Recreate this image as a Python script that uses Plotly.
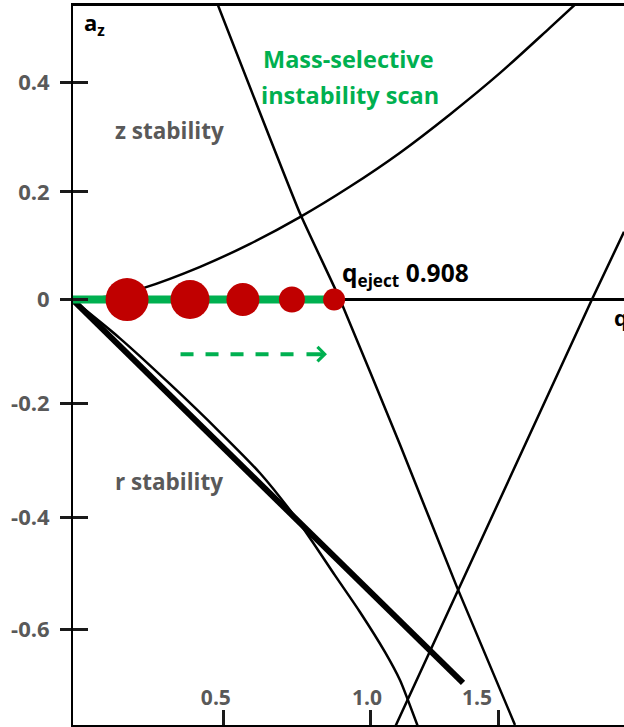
import plotly.graph_objects as go

# ---------------- data ----------------
# upper z-boundary (rising curve from the origin)
upper_q = [0.0, 0.125, 0.236, 0.428, 0.596, 0.764, 0.933, 1.101, 1.269, 1.438, 1.606, 1.690]
upper_a = [0.0, 0.006, 0.021, 0.060, 0.102, 0.151, 0.207, 0.269, 0.339, 0.415, 0.498, 0.540]

# beta_z = 1 boundary (steep descending line, crosses a=0 at q_eject)
beta1_q = [0.488, 0.764, 0.899, 1.101, 1.293, 1.488]
beta1_a = [0.539, 0.158, 0.0, -0.266, -0.527, -0.779]

# rising r-boundary on the right
rising_q = [1.084, 1.300, 1.471, 1.747, 1.855]
rising_a = [-0.783, -0.528, -0.325, 0.0, 0.124]

# lower curved boundary (thin)
lower_q = [0.0, 0.158, 0.327, 0.495, 0.630, 0.731, 0.798, 0.882, 0.966, 1.051, 1.101, 1.128, 1.162]
lower_a = [-0.001, -0.071, -0.155, -0.243, -0.318, -0.386, -0.437, -0.505, -0.572, -0.646, -0.697, -0.734, -0.783]

# thick straight line
thick_q = [0.0, 0.657, 1.313]
thick_a = [-0.001, -0.351, -0.702]

# scan line and ions
scan_q = [0.0, 0.899]
scan_a = [0.0, 0.0]
ions_q = [0.182, 0.394, 0.572, 0.737, 0.879]
ions_a = [0.0, 0.0, 0.0, 0.0, 0.0]
ion_size = [43, 39, 33, 26, 22]

# dashed scan-direction arrow
arrow_q = [0.362, 0.774]
arrow_a = [-0.1, -0.1]
arrow_tip_q = 0.855
arrow_tail_q = 0.781

# axis ticks
x_tick_pos = [0.508, 1.0, 1.431]
x_label_pos = [0.481, 0.990, 1.360]
x_tick_text = ["0.5", "1.0", "1.5"]
y_tick_pos = [0.397, 0.197, 0.0, -0.190, -0.399, -0.604]
y_tick_text = ["0.4", "0.2", "0", "-0.2", "-0.4", "-0.6"]

q_eject_text = "0.908"

X_RANGE = [0, 1.855]
Y_RANGE = [-0.779, 0.5375]

GREEN = "#00B050"
RED = "#C00000"
GREY = "#595959"
FONT = "Open Sans"

fig = go.Figure()

thin = dict(color="black", width=2.5)
fig.add_trace(go.Scatter(x=upper_q, y=upper_a, mode="lines", line=dict(shape="spline", smoothing=0.8, **thin), hoverinfo="skip"))
fig.add_trace(go.Scatter(x=beta1_q, y=beta1_a, mode="lines", line=dict(shape="spline", smoothing=0.4, **thin), hoverinfo="skip"))
fig.add_trace(go.Scatter(x=rising_q, y=rising_a, mode="lines", line=thin, hoverinfo="skip"))
fig.add_trace(go.Scatter(x=lower_q, y=lower_a, mode="lines", line=dict(shape="spline", smoothing=0.8, **thin), hoverinfo="skip"))
fig.add_trace(go.Scatter(x=thick_q, y=thick_a, mode="lines", line=dict(color="black", width=6), hoverinfo="skip"))

fig.add_trace(go.Scatter(x=arrow_q, y=arrow_a, mode="lines",
                         line=dict(color=GREEN, width=4, dash="13px,12px"), hoverinfo="skip"))
fig.add_trace(go.Scatter(x=scan_q, y=scan_a, mode="lines", line=dict(color=GREEN, width=8), hoverinfo="skip"))
fig.add_trace(go.Scatter(x=ions_q, y=ions_a, mode="markers",
                         marker=dict(color=RED, size=ion_size, opacity=1, line=dict(width=0)),
                         hoverinfo="skip"))

# invisible traces so the overlay axes are drawn
fig.add_trace(go.Scatter(x=[None], y=[None], xaxis="x2", yaxis="y", hoverinfo="skip", showlegend=False))
fig.add_trace(go.Scatter(x=[None], y=[None], xaxis="x", yaxis="y2", hoverinfo="skip", showlegend=False))

fig.update_layout(
    template="none",
    width=624, height=727,
    margin=dict(l=73, r=0, t=6, b=2, pad=0),
    paper_bgcolor="white", plot_bgcolor="white",
    showlegend=False,
    font=dict(family=FONT),
    xaxis=dict(range=X_RANGE, showline=True, linewidth=3, linecolor="black", mirror=True,
               ticks="inside", ticklen=15, tickwidth=3, tickcolor="#1a1a1a",
               tickvals=x_tick_pos, showticklabels=False, automargin=False,
               showgrid=False, zeroline=False, fixedrange=True),
    xaxis2=dict(range=X_RANGE, overlaying="x", anchor="y", side="bottom",
                tickvals=x_label_pos, ticktext=[f"<b>{t}</b>" for t in x_tick_text],
                ticks="inside", ticklen=17, tickcolor="rgba(0,0,0,0)", automargin=False,
                ticklabelposition="inside", tickfont=dict(size=21, color=GREY, family=FONT),
                showline=False, showgrid=False, zeroline=False, fixedrange=True),
    yaxis=dict(range=Y_RANGE, showline=True, linewidth=2, linecolor="black",
               ticks="outside", ticklen=11, tickwidth=3, tickcolor="#1a1a1a",
               tickvals=y_tick_pos, ticktext=[f"<b>{t}</b>" for t in y_tick_text],
               tickfont=dict(size=22, color=GREY, family=FONT), ticklabelstandoff=6,
               zeroline=True, zerolinecolor="black", zerolinewidth=3, automargin=False,
               showgrid=False, fixedrange=True),
    yaxis2=dict(range=Y_RANGE, overlaying="y", anchor="x", side="left",
                ticks="inside", ticklen=15, tickwidth=3, tickcolor="#1a1a1a",
                tickvals=y_tick_pos, showticklabels=False, automargin=False,
                showline=False, showgrid=False, zeroline=False, fixedrange=True),
)

ann = [
    dict(x=0.03, y=0.505, text="<b>a<sub>z</sub></b>", xanchor="left", yanchor="middle",
         font=dict(size=22, color="black")),
    dict(x=1.815, y=-0.036, text="<b>q<sub>z</sub></b>", xanchor="left", yanchor="middle",
         font=dict(size=22, color="black")),
    dict(x=0.899, y=0.047, text=f"<b>q<sub>eject</sub> {q_eject_text}</b>", xanchor="left", yanchor="middle",
         font=dict(size=24.5, color="black")),
    dict(x=0.135, y=0.310, text="<b>z stability</b>", xanchor="left", yanchor="middle",
         font=dict(size=22.5, color=GREY)),
    dict(x=0.135, y=-0.334, text="<b>r stability</b>", xanchor="left", yanchor="middle",
         font=dict(size=22.5, color=GREY)),
    dict(x=0.926, y=0.440, text="<b>Mass-selective</b>", xanchor="center", yanchor="middle",
         font=dict(size=23.5, color=GREEN)),
    dict(x=0.932, y=0.375, text="<b>instability scan</b>", xanchor="center", yanchor="middle",
         font=dict(size=23.5, color=GREEN)),
    dict(x=arrow_tip_q, y=arrow_a[0], ax=arrow_tail_q, ay=arrow_a[0], axref="x", ayref="y",
         text="", showarrow=True, arrowhead=4, arrowsize=0.7, arrowwidth=4, arrowcolor=GREEN),
]
for a in ann:
    a.setdefault("showarrow", False)
    a["xref"] = "x"
    a["yref"] = "y"
    fig.add_annotation(**a)

fig.write_html("out.html",
               config={"displayModeBar": False, "staticPlot": True},
               post_script="document.body.style.margin='0px';document.body.style.padding='0px';")
